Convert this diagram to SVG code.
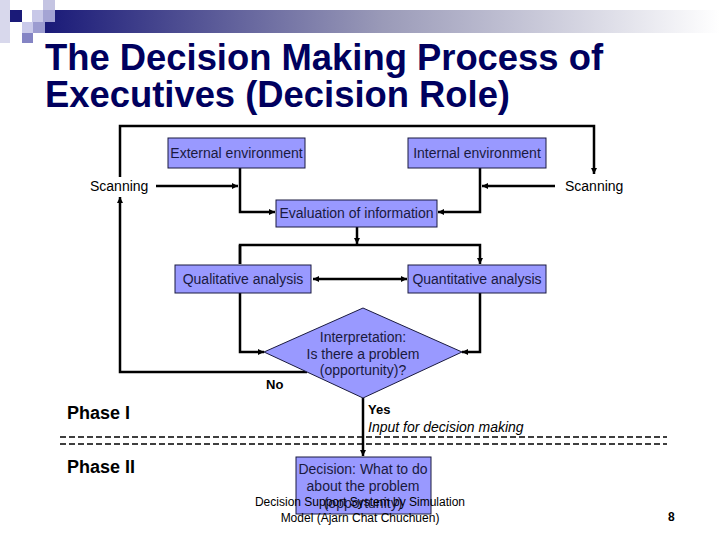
<svg xmlns="http://www.w3.org/2000/svg" width="720" height="540" viewBox="0 0 720 540">
<defs>
<linearGradient id="hdr" x1="0" y1="0" x2="1" y2="0">
<stop offset="0" stop-color="#1a1a78"/>
<stop offset="0.5" stop-color="#9a9ab8"/>
<stop offset="1" stop-color="#ffffff"/>
</linearGradient>
<marker id="ah" viewBox="0 0 10 10" refX="10" refY="5" markerWidth="6" markerHeight="6" markerUnits="userSpaceOnUse" orient="auto">
<path d="M0,0 L10,5 L0,10 z" fill="#000"/>
</marker>
<marker id="as" viewBox="0 0 10 10" refX="0" refY="5" markerWidth="6" markerHeight="6" markerUnits="userSpaceOnUse" orient="auto">
<path d="M10,0 L0,5 L10,10 z" fill="#000"/>
</marker>
</defs>
<style>
.box{fill:#9999ff;stroke:#1a1a40;stroke-width:1}
.bt{font-family:"Liberation Sans",Arial,sans-serif;font-size:14px;fill:#1a1a40;text-anchor:middle}
.lbl{font-family:"Liberation Sans",Arial,sans-serif;font-size:14px;fill:#000}
.con{fill:none;stroke:#000;stroke-width:2.5}
.arr{marker-end:url(#ah)}
.title{font-family:"Liberation Sans",Arial,sans-serif;font-size:36px;font-weight:bold;fill:#00005e}
.bold{font-family:"Liberation Sans",Arial,sans-serif;font-weight:bold;fill:#000}
.dash{stroke:#000;stroke-width:1.5;stroke-dasharray:6 3}
</style>
<rect width="720" height="540" fill="#fff"/>
<g id="header">
<rect x="45" y="10" width="675" height="23" fill="url(#hdr)"/>
<rect x="0" y="0" width="10" height="43" fill="#d8d8ec"/>
<rect x="43" y="0" width="12" height="10" fill="#c4c4e2"/>
<rect x="10" y="10" width="12" height="12" fill="#1a1a78"/>
<rect x="32" y="10" width="11" height="12" fill="#c8c8e8"/>
<rect x="43" y="10" width="12" height="12" fill="#a4a4d4"/>
<rect x="22" y="22" width="11" height="11" fill="#cacaea"/>
<rect x="33" y="22" width="12" height="11" fill="#9c9cd0"/>
<rect x="22" y="33" width="11" height="10" fill="#8484c4"/>
</g>
<text class="title" x="45" y="70" textLength="558" lengthAdjust="spacingAndGlyphs">The Decision Making Process of</text>
<text class="title" x="45" y="107" textLength="465" lengthAdjust="spacingAndGlyphs">Executives (Decision Role)</text>

<g id="connectors">
<path class="con arr" d="M120,177 V126 H594 V174"/>
<path class="con arr" d="M156,186 H238"/>
<path class="con arr" d="M240,168 V212 H275"/>
<path class="con arr" d="M555,186 H482"/>
<path class="con arr" d="M480,168 V212 H438"/>
<path class="con arr" d="M357,227 V244"/>
<path class="con arr" d="M240,264 V245 H480 V264"/>
<path class="con" d="M240,245 V264"/>
<path class="con arr" d="M313,279 H407" style="marker-start:url(#as)"/>
<path class="con arr" d="M240,293 V352 H264"/>
<path class="con arr" d="M480,293 V352 H462"/>
<path class="con arr" d="M307,372 H120 V197"/>
<path class="con arr" d="M363,398 V456"/>
<line class="dash" x1="60" y1="437" x2="667" y2="437"/>
<line class="dash" x1="60" y1="444" x2="667" y2="444"/>
</g>

<g id="scan-left"><text class="lbl" x="90" y="191">Scanning</text></g>
<g id="scan-right"><text class="lbl" x="565" y="191">Scanning</text></g>

<g id="external">
<rect class="box" x="168" y="138" width="137" height="30"/>
<text class="bt" x="236.5" y="158">External environment</text>
</g>
<g id="internal">
<rect class="box" x="408" y="138" width="138" height="30"/>
<text class="bt" x="477" y="158">Internal environment</text>
</g>
<g id="evaluation">
<rect class="box" x="276" y="200" width="161" height="27"/>
<text class="bt" x="356.5" y="218">Evaluation of information</text>
</g>
<g id="qualitative">
<rect class="box" x="175" y="265" width="136" height="28"/>
<text class="bt" x="243" y="284">Qualitative analysis</text>
</g>
<g id="quantitative">
<rect class="box" x="408" y="265" width="138" height="28"/>
<text class="bt" x="477" y="284">Quantitative analysis</text>
</g>
<g id="interpretation">
<polygon class="box" points="363,308 462,352 363,398 264,352"/>
<text class="bt" x="363" y="342">Interpretation:</text>
<text class="bt" x="363" y="359">Is there a problem</text>
<text class="bt" x="363" y="375">(opportunity)?</text>
</g>
<g id="labels">
<text class="bold" x="266" y="389" font-size="13">No</text>
<text class="bold" x="368" y="414" font-size="13">Yes</text>
<text class="lbl" x="368" y="432" font-style="italic">Input for decision making</text>
<text class="bold" x="67" y="419" font-size="18">Phase I</text>
<text class="bold" x="67" y="473" font-size="18">Phase II</text>
</g>
<g id="decision">
<rect class="box" x="296" y="457" width="135" height="57"/>
<text class="bt" x="363" y="474">Decision: What to do</text>
<text class="bt" x="363" y="491">about the problem</text>
<text class="bt" x="363" y="508">(opportunity)</text>
</g>
<g id="footer">
<text x="360" y="506" font-family="Liberation Sans, Arial, sans-serif" font-size="12" text-anchor="middle" fill="#000">Decision Support System by Simulation</text>
<text x="360" y="522" font-family="Liberation Sans, Arial, sans-serif" font-size="12" text-anchor="middle" fill="#000">Model (Ajarn Chat Chuchuen)</text>
<text class="bold" x="668" y="521" font-size="12">8</text>
</g>
</svg>
